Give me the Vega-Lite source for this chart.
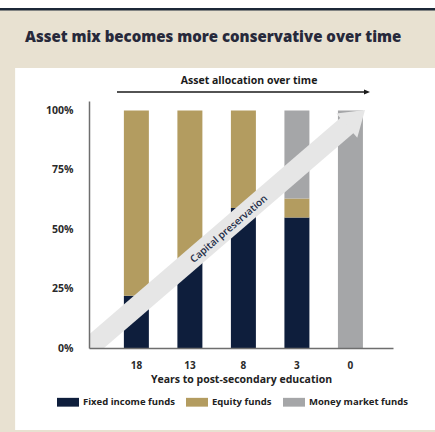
{
  "$schema": "https://vega.github.io/schema/vega-lite/v6.json",
  "width": 304,
  "height": 247,
  "autosize": {"type": "none"},
  "padding": {"left": 89, "top": 101, "right": 42, "bottom": 84},
  "background": "#e8e1d1",
  "config": {
    "view": {"stroke": null},
    "font": "Open Sans",
    "axis": {"grid": false, "ticks": false, "domainColor": "#6e6e6e", "domainWidth": 1.5, "labelFont": "Open Sans", "labelFontWeight": "bold", "labelColor": "#2a2a2a", "labelFontSize": 10},
    "legend": {"zindex": 1, "padding": 0, "symbolOpacity": 1}
  },
  "resolve": {"scale": {"x": "independent", "y": "independent"}},
  "layer": [
    {
      "data": {"values": [{}]},
      "layer": [
        {
          "mark": {"type": "rect", "color": "#ffffff", "clip": false},
          "encoding": {
            "x": {"datum": -24.3, "type": "quantitative", "scale": {"domain": [0, 100], "nice": false, "zero": false}, "axis": null},
            "x2": {"datum": 115},
            "y": {"datum": 1.179, "type": "quantitative", "scale": {"domain": [0, 1.04], "nice": false, "zero": false}, "axis": null},
            "y2": {"datum": -0.345}
          }
        },
        {
          "mark": {"type": "rect", "color": "#ffffff", "clip": false},
          "encoding": {
            "x": {"datum": -30, "type": "quantitative", "scale": {"domain": [0, 100], "nice": false, "zero": false}, "axis": null},
            "x2": {"datum": 115},
            "y": {"datum": 1.475, "type": "quantitative", "scale": {"domain": [0, 1.04], "nice": false, "zero": false}, "axis": null},
            "y2": {"datum": 1.43}
          }
        },
        {
          "mark": {"type": "rule", "color": "#1c2838", "strokeWidth": 2.5, "clip": false},
          "encoding": {
            "x": {"datum": -30, "type": "quantitative", "scale": {"domain": [0, 100], "nice": false, "zero": false}, "axis": null},
            "x2": {"datum": 115},
            "y": {"datum": 1.4265, "type": "quantitative", "scale": {"domain": [0, 1.04], "nice": false, "zero": false}, "axis": null}
          }
        },
        {
          "mark": {"type": "text", "text": "Asset mix becomes more conservative over time", "align": "left", "baseline": "alphabetic", "font": "Open Sans", "fontSize": 15, "fontWeight": 800, "color": "#27293b", "clip": false},
          "encoding": {
            "x": {"datum": -21.05, "type": "quantitative", "scale": {"domain": [0, 100], "nice": false, "zero": false}, "axis": null},
            "y": {"datum": 1.288, "type": "quantitative", "scale": {"domain": [0, 1.04], "nice": false, "zero": false}, "axis": null}
          }
        }
      ]
    },
    {
      "data": {
        "values": [
          {"years": "18", "fund": "Fixed income funds", "pct": 0.22, "o": 1},
          {"years": "18", "fund": "Equity funds", "pct": 0.78, "o": 2},
          {"years": "13", "fund": "Fixed income funds", "pct": 0.37, "o": 1},
          {"years": "13", "fund": "Equity funds", "pct": 0.63, "o": 2},
          {"years": "8", "fund": "Fixed income funds", "pct": 0.59, "o": 1},
          {"years": "8", "fund": "Equity funds", "pct": 0.41, "o": 2},
          {"years": "3", "fund": "Fixed income funds", "pct": 0.55, "o": 1},
          {"years": "3", "fund": "Equity funds", "pct": 0.08, "o": 2},
          {"years": "3", "fund": "Money market funds", "pct": 0.37, "o": 3},
          {"years": "0", "fund": "Money market funds", "pct": 1.0, "o": 3}
        ]
      },
      "mark": {"type": "bar"},
      "encoding": {
        "x": {
          "field": "years", "type": "ordinal", "sort": ["18", "13", "8", "3", "0"],
          "scale": {"paddingInner": 0.533, "paddingOuter": 0.607, "align": 0.537},
          "axis": {"title": "Years to post-secondary education", "zindex": 1, "labelAngle": 0, "labelPadding": 12, "titleFont": "Open Sans", "titleFontSize": 10.5, "titleFontWeight": "bold", "titleColor": "#222222", "titlePadding": 4}
        },
        "y": {
          "field": "pct", "type": "quantitative", "stack": "zero",
          "scale": {"domain": [0, 1.04], "nice": false},
          "axis": {"title": null, "zindex": 1, "values": [0, 0.25, 0.5, 0.75, 1], "format": ".0%", "labelPadding": 16, "labelFontSize": 10.5}
        },
        "color": {
          "field": "fund", "type": "nominal",
          "scale": {"domain": ["Fixed income funds", "Equity funds", "Money market funds"], "range": ["#0e1e3c", "#b39c60", "#a5a6a8"]},
          "legend": {"title": null, "orient": "none", "legendX": -32, "legendY": 290, "direction": "horizontal", "symbolType": "M-1,-0.4H1V0.4H-1Z", "symbolSize": 484, "symbolStrokeWidth": 0, "labelFont": "Open Sans", "labelFontSize": 9.5, "labelFontWeight": "bold", "labelColor": "#222222", "labelOffset": 4, "columnPadding": 11}
        },
        "order": {"field": "o", "type": "quantitative"}
      }
    },
    {
      "data": {"values": [{}]},
      "layer": [
        {
          "mark": {"type": "rule", "color": "#e6e6e6", "strokeWidth": 20, "strokeCap": "butt", "clip": true},
          "encoding": {
            "x": {"datum": -4, "type": "quantitative", "scale": {"domain": [0, 100], "nice": false, "zero": false}, "axis": null},
            "x2": {"datum": 86.8},
            "y": {"datum": -0.043, "type": "quantitative", "scale": {"domain": [0, 1.04], "nice": false, "zero": false}, "axis": null},
            "y2": {"datum": 0.9583}
          }
        },
        {
          "mark": {"type": "point", "shape": "M0,-1L1,0.5L-1,0.5Z", "size": 1024, "angle": 49.27, "filled": true, "color": "#e6e6e6", "opacity": 1, "clip": false},
          "encoding": {
            "x": {"datum": 86.8, "type": "quantitative", "scale": {"domain": [0, 100], "nice": false, "zero": false}, "axis": null},
            "y": {"datum": 0.9583, "type": "quantitative", "scale": {"domain": [0, 1.04], "nice": false, "zero": false}, "axis": null}
          }
        },
        {
          "mark": {"type": "text", "text": "Capital preservation", "angle": -40.7, "align": "center", "baseline": "middle", "font": "Open Sans", "fontSize": 10, "fontWeight": 600, "color": "#1c2a45", "clip": false},
          "encoding": {
            "x": {"datum": 46.05, "type": "quantitative", "scale": {"domain": [0, 100], "nice": false, "zero": false}, "axis": null},
            "y": {"datum": 0.501, "type": "quantitative", "scale": {"domain": [0, 1.04], "nice": false, "zero": false}, "axis": null}
          }
        },
        {
          "mark": {"type": "rule", "color": "#1a1a1a", "strokeWidth": 1.5, "clip": false},
          "encoding": {
            "x": {"datum": 9.21, "type": "quantitative", "scale": {"domain": [0, 100], "nice": false, "zero": false}, "axis": null},
            "x2": {"datum": 91.1},
            "y": {"datum": 1.0779, "type": "quantitative", "scale": {"domain": [0, 1.04], "nice": false, "zero": false}, "axis": null}
          }
        },
        {
          "mark": {"type": "point", "shape": "M1,0L-1,-0.8L-1,0.8Z", "size": 36, "filled": true, "color": "#1a1a1a", "opacity": 1, "clip": false},
          "encoding": {
            "x": {"datum": 91.45, "type": "quantitative", "scale": {"domain": [0, 100], "nice": false, "zero": false}, "axis": null},
            "y": {"datum": 1.0779, "type": "quantitative", "scale": {"domain": [0, 1.04], "nice": false, "zero": false}, "axis": null}
          }
        },
        {
          "mark": {"type": "text", "text": "Asset allocation over time", "align": "center", "baseline": "alphabetic", "font": "Open Sans", "fontSize": 10.5, "fontWeight": "bold", "color": "#1a1a1a", "clip": false},
          "encoding": {
            "x": {"datum": 52.66, "type": "quantitative", "scale": {"domain": [0, 100], "nice": false, "zero": false}, "axis": null},
            "y": {"datum": 1.1116, "type": "quantitative", "scale": {"domain": [0, 1.04], "nice": false, "zero": false}, "axis": null}
          }
        }
      ]
    }
  ]
}
